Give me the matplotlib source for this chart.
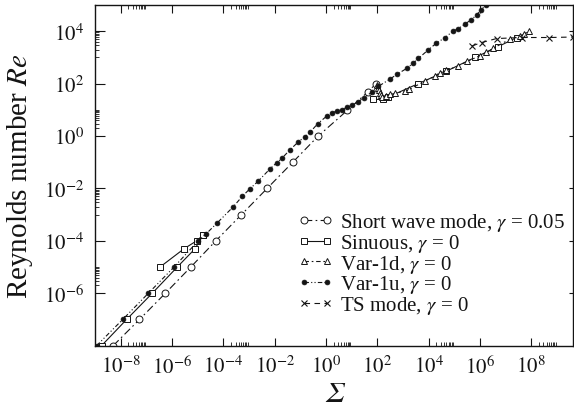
import numpy as np
import matplotlib
matplotlib.use("Agg")
import matplotlib.pyplot as plt
from matplotlib.ticker import FixedLocator, FuncFormatter, NullFormatter

plt.rcParams['font.family'] = ['Liberation Serif', 'DejaVu Serif']
plt.rcParams['mathtext.fontset'] = 'stix'

# ---------------- data ----------------
short_sigma = [5.1e-9, 5.4e-8, 5.5e-7, 5.4e-6, 5.1e-5, 5.1e-4, 5.1e-3, 5.1e-2, 0.50, 6.8, 45, 89]
short_re = [1e-8, 1e-7, 1e-6, 1e-5, 1e-4, 1e-3, 1e-2, 0.1, 1.0, 9.5, 50, 100]

sin_low_sigma = [1.8e-9, 1.7e-8, 1.7e-7, 1.6e-6, 7.9e-6, 1.66e-5]
sin_low_re = [1e-8, 1e-7, 1e-6, 1e-5, 5e-5, 1.7e-4]
sin_up_sigma = [3.4e-7, 2.95e-6, 9.1e-6, 1.66e-5]
sin_up_re = [1e-5, 5e-5, 1e-4, 1.7e-4]
sin_high_sigma = [66, 162, 270, 4.0e3, 5.0e4, 6.5e5, 4.9e6, 2.7e7]
sin_high_re = [25, 25, 31, 100, 300, 1000, 2500, 5750]

var1d_sigma = [95, 107, 117, 126, 138, 151, 219, 316, 490, 1.2e3, 1.8e3, 7.2e3, 1.8e4,
               2.75e4, 5.0e4, 1.45e5, 3.2e5, 1.0e6, 1.8e6, 3.2e6, 1.5e7, 3.6e7, 5.2e7, 8.3e7]
var1d_re = [89, 71, 56, 45, 37, 32, 35, 39, 42, 52, 60, 126, 195,
            263, 324, 468, 708, 1150, 1550, 2190, 5000, 6600, 7760, 1.02e4]

var1u_sigma = [1.15e-9, 1.2e-8, 1.2e-7, 1.2e-6, 1.05e-5, 2.2e-5, 5.5e-5, 2.45e-4, 5.6e-4,
               1.1e-3, 2.3e-3, 6.6e-3, 1.2e-2, 1.9e-2, 4.0e-2, 8.3e-2, 0.15, 0.24, 0.48,
               1.07, 1.66, 2.6, 4.1, 6.5, 10, 18, 30, 60, 110, 309, 600, 1.4e3, 2.5e3,
               4.0e3, 9.8e3, 1.95e4, 4.4e4, 8.7e4, 1.45e5, 2.6e5, 4.5e5, 7.4e5, 1.07e6, 1.74e6]
var1u_re = [1e-8, 1e-7, 1e-6, 1e-5, 1e-4, 1.9e-4, 4.6e-4, 2.0e-3, 5.1e-3,
            9.8e-3, 1.9e-2, 5.6e-2, 9.5e-2, 0.14, 0.30, 0.59, 0.95, 1.4, 2.95,
            5.75, 7.8, 8.7, 9.8, 12.3, 14.8, 20, 29.5, 46, 78, 148, 229, 380, 600,
            912, 1.95e3, 3.4e3, 5.75e3, 9.8e3, 1.26e4, 1.86e4, 2.7e4, 4.1e4, 6.3e4, 1.0e5]

ts_sigma = [5.0e5, 1.17e6, 4.5e6, 4.3e7, 5.0e8, 4.4e9]
ts_re = [2750, 3700, 5250, 5750, 5750, 6000]

labels = ["Short wave mode, $\\gamma$ = 0.05", "Sinuous, $\\gamma$ = 0",
          "Var-1d, $\\gamma$ = 0", "Var-1u, $\\gamma$ = 0", "TS mode, $\\gamma$ = 0"]

x_major = [1e-8, 1e-6, 1e-4, 1e-2, 1e0, 1e2, 1e4, 1e6, 1e8]
y_major = [1e-6, 1e-4, 1e-2, 1e0, 1e2, 1e4]
x_minor_decades = [-8, -4, 0, 4, 8]
y_minor_decades = [-6, -3, 0, 3]

# ---------------- figure ----------------
W, H = 574, 410
fig = plt.figure(figsize=(W / 100, H / 100), dpi=100)
L, R, T, B = 95, 573, 6, 346.7
ax = fig.add_axes([L / W, 1 - B / H, (R - L) / W, (B - T) / H])

col = '#141414'
lw = 0.8
ax.plot(short_sigma, short_re, color=col, lw=lw, dashes=(7, 3, 1.5, 3),
        marker='o', ms=5, mfc='white', mec=col, mew=0.7, label=labels[0])
ax.plot(sin_low_sigma, sin_low_re, color=col, lw=lw, ls='-',
        marker='s', ms=4.5, mfc='white', mec=col, mew=0.7, label=labels[1])
ax.plot(sin_up_sigma, sin_up_re, color=col, lw=lw, ls='-',
        marker='s', ms=4.5, mfc='white', mec=col, mew=0.7)
ax.plot(sin_high_sigma, sin_high_re, color=col, lw=lw, ls='-',
        marker='s', ms=4.5, mfc='white', mec=col, mew=0.7)
ax.plot(var1d_sigma, var1d_re, color=col, lw=lw, dashes=(4, 2.5, 1.5, 2.5),
        marker='^', ms=4.5, mfc='white', mec=col, mew=0.7, label=labels[2])
ax.plot(var1u_sigma, var1u_re, color=col, lw=lw, dashes=(4, 2, 1, 2, 1, 2),
        marker='o', ms=3.5, mfc=col, mec=col, mew=0.5, label=labels[3])
ax.plot(ts_sigma, ts_re, color=col, lw=lw, dashes=(5, 4),
        marker='x', ms=5, mec=col, mew=0.8, label=labels[4], clip_on=False)

ax.set_xscale('log')
ax.set_yscale('log')
ax.set_xlim(1e-9, 10 ** 9.63)
ax.set_ylim(1e-8, 1e5)

def fmt(v, pos):
    e = int(round(np.log10(v)))
    return "$10^{%d}$" % e

x_minor = [k * 10.0 ** d for d in x_minor_decades for k in range(2, 10)]
y_minor = [k * 10.0 ** d for d in y_minor_decades for k in range(1, 11)
           if not any(abs(np.log10(k * 10.0 ** d) - np.log10(m)) < 1e-6 for m in y_major)]
ax.xaxis.set_major_locator(FixedLocator(x_major))
ax.xaxis.set_minor_locator(FixedLocator(x_minor))
ax.yaxis.set_major_locator(FixedLocator(y_major))
ax.yaxis.set_minor_locator(FixedLocator(y_minor))
ax.xaxis.set_major_formatter(FuncFormatter(fmt))
ax.yaxis.set_major_formatter(FuncFormatter(fmt))
ax.xaxis.set_minor_formatter(NullFormatter())
ax.yaxis.set_minor_formatter(NullFormatter())

ax.tick_params(axis='x', which='major', direction='in', length=6, width=0.8,
               top=True, bottom=True, labelsize=15, pad=7, colors=col)
ax.tick_params(axis='x', which='minor', direction='in', length=3, width=0.6,
               top=True, bottom=True, colors=col)
ax.tick_params(axis='y', which='major', direction='in', length=7, width=0.8,
               left=True, right=False, labelsize=15, pad=8, colors=col)
ax.tick_params(axis='y', which='minor', direction='in', length=3, width=0.6,
               left=True, right=False, colors=col)
for s in ax.spines.values():
    s.set_linewidth(1.0)
    s.set_color(col)

# short right-side ticks
ax2 = ax.twinx()
ax2.set_yscale('log')
ax2.set_ylim(ax.get_ylim())
ax2.yaxis.set_major_locator(FixedLocator(y_major))
ax2.yaxis.set_minor_locator(FixedLocator([]))
ax2.yaxis.set_major_formatter(NullFormatter())
ax2.tick_params(axis='y', which='major', direction='in', length=3, width=0.8, colors=col)
for s in ax2.spines.values():
    s.set_visible(False)

ax.set_xlabel("Σ", fontsize=21, labelpad=2, color=col,
              fontdict={'family': 'STIXGeneral', 'style': 'italic'})
ax.set_ylabel("Reynolds number $\\mathit{Re}$", fontsize=21, labelpad=6, color=col)

leg = ax.legend(loc='upper left', bbox_to_anchor=(0.425, 0.395), frameon=False,
                numpoints=2, handlelength=1.7, handletextpad=0.3, labelspacing=-0.06,
                borderpad=0, borderaxespad=0, fontsize=15)
for t in leg.get_texts():
    t.set_color(col)

fig.savefig("out.png", dpi=100)
